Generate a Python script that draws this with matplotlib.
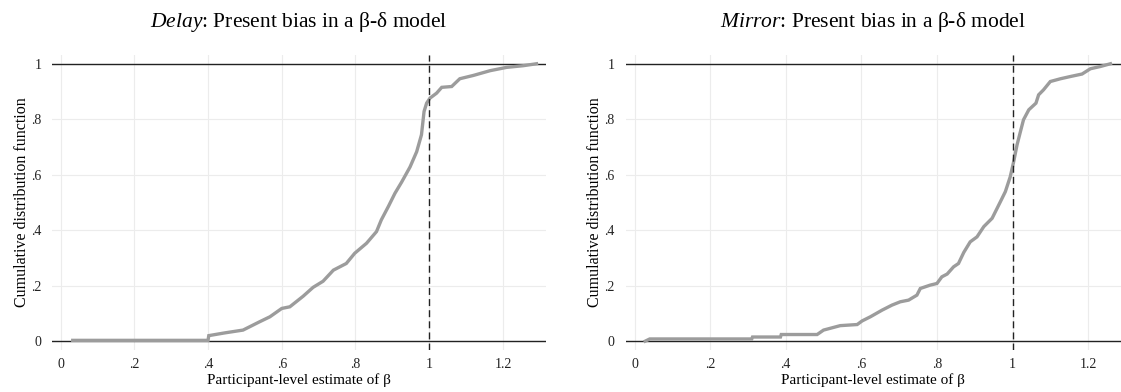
import matplotlib
matplotlib.use('Agg')
import matplotlib.pyplot as plt

plt.rcParams['font.family'] = ['Liberation Serif', 'DejaVu Serif']
plt.rcParams['mathtext.fontset'] = 'custom'
plt.rcParams['mathtext.rm'] = 'Liberation Serif'
plt.rcParams['mathtext.it'] = 'Liberation Serif:italic'

(W, H, DPI) = (1121, 392, 100)
###############################################################################
# Data (ECDF knots)
###############################################################################
# Delay -----------------------------------------------------------------------
delayBeta = [
    0.033, 0.400, 0.402, 0.446, 0.495, 0.540, 0.568, 0.600, 0.622, 0.658,
    0.685, 0.712, 0.740, 0.775, 0.798, 0.830, 0.857, 0.870, 0.889, 0.907,
    0.925, 0.948, 0.966, 0.979, 0.986, 0.993, 1.002, 1.020, 1.034, 1.061,
    1.083, 1.120, 1.165, 1.210, 1.255, 1.291
]
delayCDF = [
    0.003, 0.003, 0.020, 0.030, 0.040, 0.070, 0.088, 0.118, 0.124, 0.162,
    0.194, 0.216, 0.256, 0.280, 0.317, 0.353, 0.395, 0.437, 0.485, 0.533,
    0.573, 0.628, 0.683, 0.744, 0.828, 0.858, 0.876, 0.894, 0.915, 0.918,
    0.946, 0.958, 0.975, 0.987, 0.993, 1.000
]
# Mirror ----------------------------------------------------------------------
mirrorBeta = [
    0.028, 0.040, 0.310, 0.312, 0.386, 0.388, 0.483, 0.500, 0.544, 0.589,
    0.602, 0.624, 0.655, 0.681, 0.703, 0.725, 0.747, 0.756, 0.782, 0.800,
    0.813, 0.827, 0.844, 0.857, 0.871, 0.888, 0.906, 0.924, 0.946, 0.968,
    0.981, 0.994, 1.003, 1.012, 1.021, 1.029, 1.043, 1.062, 1.069, 1.082,
    1.100, 1.127, 1.153, 1.184, 1.206, 1.232, 1.259
]
mirrorCDF = [
    0.000, 0.008, 0.008, 0.015, 0.015, 0.024, 0.024, 0.040, 0.056, 0.060,
    0.073, 0.088, 0.112, 0.130, 0.142, 0.148, 0.166, 0.190, 0.202, 0.208,
    0.232, 0.242, 0.268, 0.280, 0.320, 0.358, 0.376, 0.413, 0.443, 0.503,
    0.539, 0.593, 0.647, 0.708, 0.756, 0.798, 0.834, 0.858, 0.888, 0.906,
    0.936, 0.946, 0.954, 0.963, 0.982, 0.990, 1.000
]
xTicks = [0, .2, .4, .6, .8, 1, 1.2]
xTickLabels = ['0', '.2', '.4', '.6', '.8', '1', '1.2']
yTicks = [0, .2, .4, .6, .8, 1]
yTickLabels = ['0', '.2', '.4', '.6', '.8', '1']
panels = [
    ('Delay', delayBeta, delayCDF, [0.0468, 0.107, 0.440, 0.753], (-0.022, 1.316)),
    ('Mirror', mirrorBeta, mirrorCDF, [0.558, 0.107, 0.442, 0.753], (-0.024, 1.287)),
]
###############################################################################
# Plot
###############################################################################
fig = plt.figure(figsize=(W / DPI, H / DPI), dpi=DPI)
for (name, beta, cdf, pos, xlim) in panels:
    ax = fig.add_axes(pos)
    ax.set_xlim(*xlim)
    ax.set_ylim(-0.032, 1.032)
    # Grids -------------------------------------------------------------------
    ax.set_xticks(xTicks)
    ax.set_xticklabels(xTickLabels)
    ax.set_yticks(yTicks)
    ax.set_yticklabels(yTickLabels)
    ax.grid(color='#ececec', linewidth=0.8)
    ax.set_axisbelow(True)
    for s in ax.spines.values():
        s.set_visible(False)
    ax.tick_params(length=0, labelsize=10, colors='#222222')
    ax.tick_params(axis='x', pad=6)
    ax.tick_params(axis='y', pad=8)
    # Reference lines ---------------------------------------------------------
    ax.axhline(0, color='#222222', linewidth=1.0, zorder=2)
    ax.axhline(1, color='#222222', linewidth=1.0, zorder=2)
    ax.axvline(1, color='#222222', linewidth=1.0, linestyle=(0, (5, 3)), zorder=4)
    # CDF ---------------------------------------------------------------------
    ax.plot(beta, cdf, color='#9c9c9c', linewidth=2.4, zorder=3,
            solid_joinstyle='miter')
    # Labels ------------------------------------------------------------------
    ax.set_title(r'$\mathit{' + name + '}$' + ': Present bias in a \u03b2-\u03b4 model',
                 fontsize=15.5, pad=20)
    ax.set_xlabel('Participant-level estimate of \u03b2', fontsize=11, labelpad=1)
    ax.set_ylabel('Cumulative distribution function', fontsize=11.5, labelpad=1)

fig.savefig('out.png', dpi=DPI)
